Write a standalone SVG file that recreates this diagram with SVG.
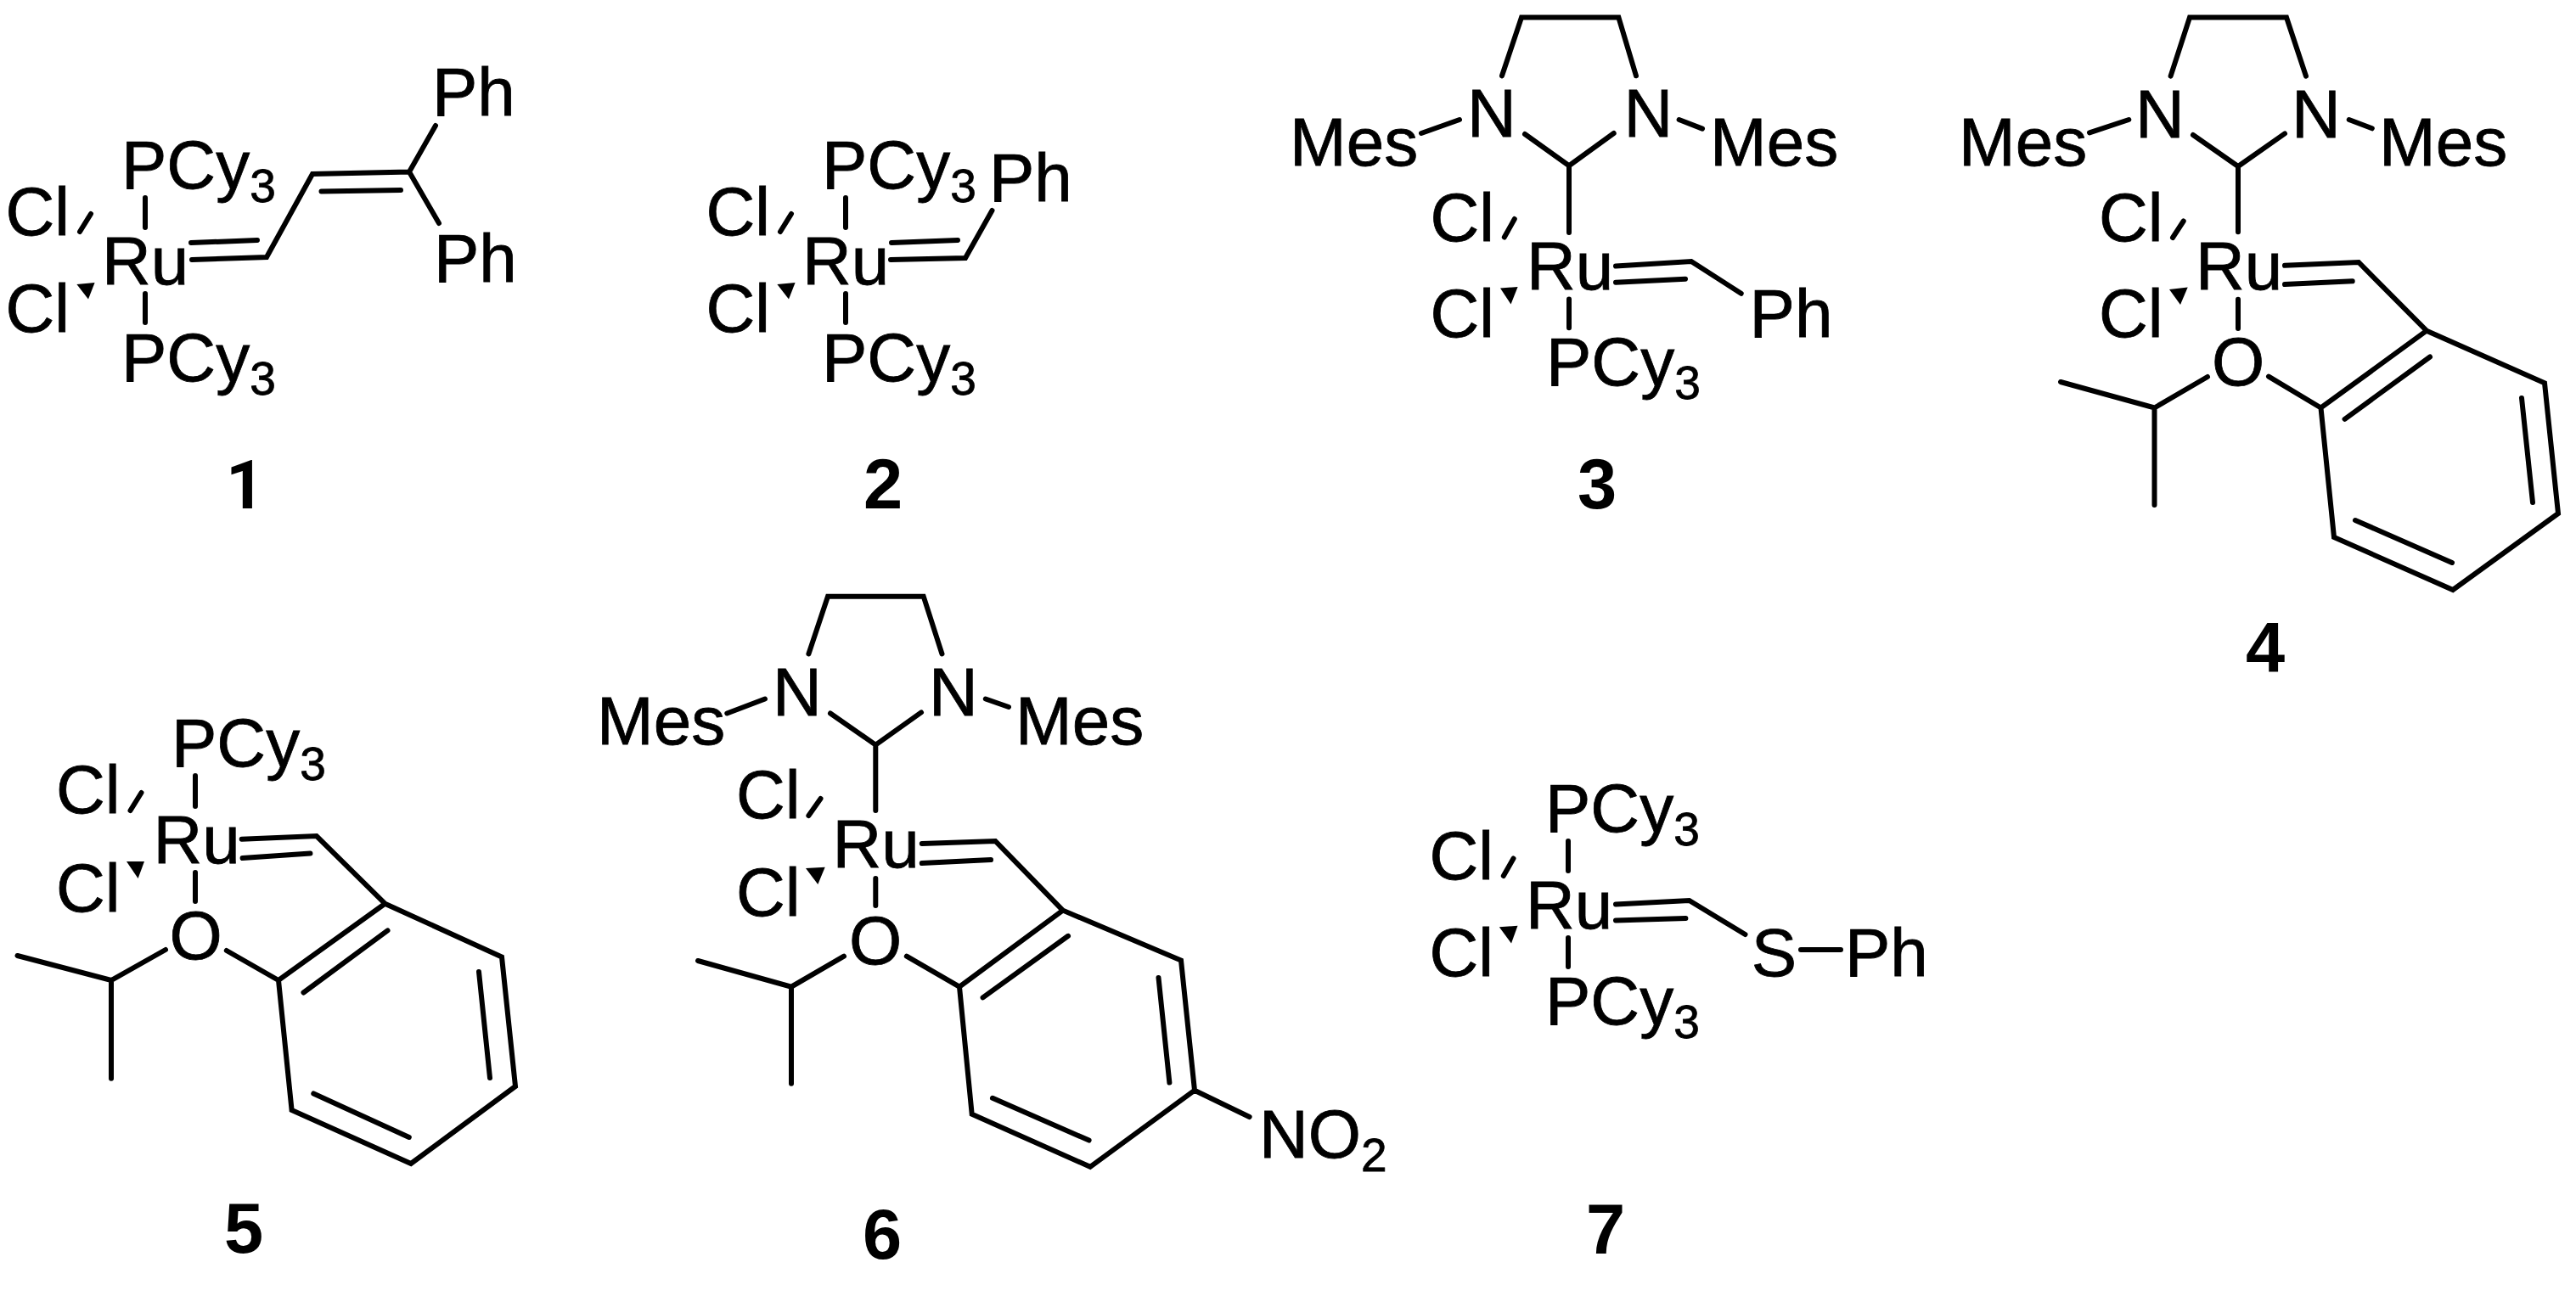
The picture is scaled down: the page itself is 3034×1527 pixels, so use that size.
<svg xmlns="http://www.w3.org/2000/svg" width="3034" height="1527" viewBox="0 0 3034 1527">
<style>
text{font-family:"Liberation Sans",Arial,sans-serif;fill:#000;font-size:80px;stroke:#000;stroke-width:.8}
.s{font-size:55px}
.n{font-weight:bold;font-size:83px;text-anchor:middle;stroke:none}
.r{font-family:Roboto,"Liberation Sans",sans-serif;font-size:79px;text-anchor:start}
#connectors path{fill:none;stroke:#000;stroke-width:6;stroke-linecap:round;stroke-linejoin:miter}
#connectors polygon{fill:#000;stroke:none}
</style>
<rect width="3034" height="1527" fill="#fff"/>
<g id="connectors">
<g id="bonds-1">
<path d="M171 233V268M171 346V380M107 252L94 273M225 286L303 283M226 306L314 303L368 205L482 202.5L513 148M482 202.5L517 263M378.5 225.5L472 224"/>
<polygon points="90.4,335 111.6,333 104,352.5"/>
</g>
<g id="bonds-2">
<path d="M996 233V268M996 346V380M932 252L919 273M1050 286L1128 283M1049 306L1137 304L1168.5 248"/>
<polygon points="915.4,335 936.6,333 929,352.5"/>
</g>
<g id="bonds-3">
<path d="M1769 89.3L1792 20.6H1906.4L1927 89.3M1674 157L1719 141M1977.6 141L2005 151.6M1796 158L1848 195.3L1900.7 157M1848 195.3V274M1783.8 258L1771.8 279.5M1903 313.6L1992 308L2050.7 345.8M1903 332.7L1985 328.7M1848 352.5V386.3"/>
<polygon points="1767,339.4 1787.6,338 1779.5,358.5"/>
</g>
<g id="bonds-4">
<path d="M2556.6 89.7L2579 20.5H2693L2716 89.7M2461 156.4L2507.3 141M2766.7 141L2793.8 151.3M2583 159L2636 196L2691 157.4M2636 196V273.3M2571.7 260.5L2559 280M2691 312.8L2778 309L2858 389.7M2691 335L2770.7 331.3M2636 352.8V387M2600 444L2537.5 480.5L2427 450M2537.5 480.5V595M2672 443.6L2733.5 480.5L2858 389.7L2997 451.3L3013 605L2889 695L2749 633L2733.5 480.5M2862 420.5L2761.6 493.8M2970 469L2983 592M2888 663L2774 613"/>
<polygon points="2555,341 2576.7,338.4 2568,359"/>
</g>
<g id="bonds-5">
<path d="M230 914V950M166.5 934L153.5 955M284.7 988.7L372.8 985L453.4 1064.7M285.6 1011L365.4 1005.5M230 1028V1062M195 1119L131 1155L20.5 1126M131 1155V1270.7M266.8 1120L328 1155L453.4 1064.7L591 1127.6L607 1280L484 1371L343.6 1308L328 1155M456.5 1096.4L357.5 1169.5M564 1145L577 1270M481.8 1340L369.3 1288.4"/>
<polygon points="149,1015 170,1015 162.6,1035"/>
</g>
<g id="bonds-6">
<path d="M952.4 770.5L975 702.7H1087.7L1109.5 770.5M856.3 840.5L901 823.5M1160.8 823.5L1188 833M978 840.5L1031.3 877.6L1085 839.4M1031.3 877.6V955M966.5 941L952.4 961M1085.8 994L1172.3 991L1251.8 1072.6M1085.8 1017L1167 1013M1031.3 1035V1067M994 1126.7L932 1162.7L822 1132M932 1162.7V1276.7M1067.8 1126.7L1130 1162.7L1251.8 1072.6L1391 1131.5L1407 1284.7L1284 1374.8L1144.7 1312.8L1130 1162.7M1258 1102.8L1157.6 1175.4M1364.5 1152L1377.4 1275.6M1282.6 1343.6L1169 1293.8M1407 1284.7L1471.6 1316"/>
<polygon points="949,1023 971.7,1021.7 963.3,1042"/>
</g>
<g id="bonds-7">
<path d="M1847 991V1026M1847 1105V1139M1782.5 1011.5L1770.8 1032M1903 1065.4L1989.6 1061L2055.5 1101M1903 1084.4L1985.4 1082M2121 1119H2168"/>
<polygon points="1765.8,1092.3 1787.5,1090.7 1780,1111.4"/>
</g>
</g>
<g id="compound-1">
<text x="6.5" y="277">Cl</text><text x="6.5" y="391">Cl</text><text x="120" y="335">Ru</text>
<text x="143" y="221.5">PCy<tspan class="s" dy="16">3</tspan></text><text x="143" y="449">PCy<tspan class="s" dy="16">3</tspan></text>
<text x="509" y="136">Ph</text><text x="511" y="331.5">Ph</text><text class="n r" x="266" y="599">1</text>
</g>
<g id="compound-2">
<text x="831.5" y="277">Cl</text><text x="831.5" y="391">Cl</text><text x="945" y="335">Ru</text>
<text x="968" y="221.5">PCy<tspan class="s" dy="16">3</tspan></text><text x="968" y="449">PCy<tspan class="s" dy="16">3</tspan></text>
<text x="1165" y="236.6">Ph</text><text class="n" x="1040" y="599">2</text>
</g>
<g id="compound-3">
<text x="1519" y="195">Mes</text><text x="1728" y="161">N</text><text x="1912.5" y="161">N</text><text x="2014" y="195">Mes</text>
<text x="1684.5" y="283.5">Cl</text><text x="1684.5" y="396.6">Cl</text><text x="1798" y="341.4">Ru</text>
<text x="1821" y="454">PCy<tspan class="s" dy="16">3</tspan></text><text x="2060.6" y="396.6">Ph</text><text class="n" x="1881" y="599">3</text>
</g>
<g id="compound-4">
<text x="2307" y="195">Mes</text><text x="2515" y="161.5">N</text><text x="2699" y="161.5">N</text><text x="2802" y="195">Mes</text>
<text x="2472" y="283.6">Cl</text><text x="2472" y="397">Cl</text><text x="2586" y="341">Ru</text><text x="2605" y="454">O</text>
<text class="n" x="2668" y="792">4</text>
</g>
<g id="compound-5">
<text x="66" y="958.4">Cl</text><text x="66" y="1073.5">Cl</text><text x="180.6" y="1016.7">Ru</text><text x="202" y="902.5">PCy<tspan class="s" dy="16">3</tspan></text>
<text x="199.6" y="1130">O</text><text class="n" x="287" y="1476">5</text>
</g>
<g id="compound-6">
<text x="703" y="876.5">Mes</text><text x="910" y="843">N</text><text x="1094" y="843">N</text><text x="1196" y="876.5">Mes</text>
<text x="867" y="963.5">Cl</text><text x="867" y="1079">Cl</text><text x="980.4" y="1022">Ru</text><text x="1000" y="1136">O</text>
<text x="1483" y="1364">NO<tspan class="s" dy="16">2</tspan></text><text class="n" x="1039" y="1483">6</text>
</g>
<g id="compound-7">
<text x="1683.5" y="1036">Cl</text><text x="1683.5" y="1149.6">Cl</text><text x="1797" y="1093.6">Ru</text>
<text x="1820" y="979.5">PCy<tspan class="s" dy="16">3</tspan></text><text x="1820" y="1206.8">PCy<tspan class="s" dy="16">3</tspan></text>
<text x="2062.7" y="1149.6">S</text><text x="2173" y="1149.6">Ph</text><text class="n" x="1891" y="1477">7</text>
</g>
</svg>
